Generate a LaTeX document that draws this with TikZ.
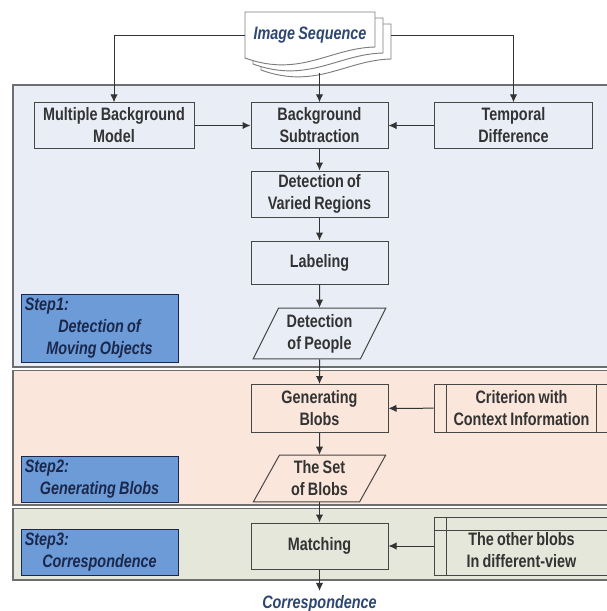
\documentclass[tikz,border=0pt]{standalone}
\usepackage{fontspec}
\setmainfont{Liberation Sans}[FakeStretch=0.8, WordSpace=0.8]
\usetikzlibrary{shapes.geometric,calc,arrows.meta}

\definecolor{panelA}{RGB}{233,237,245}
\definecolor{panelB}{RGB}{251,230,220}
\definecolor{panelC}{RGB}{228,231,218}
\definecolor{stepblue}{RGB}{108,155,216}
\definecolor{stepnavy}{RGB}{27,40,75}
\definecolor{seqblue}{RGB}{45,70,115}
\definecolor{boxline}{RGB}{70,70,70}
\definecolor{panelline}{RGB}{110,110,110}

\tikzset{
  box/.style = {draw = boxline, line width = 0.75pt, minimum width = 102.75pt,
                minimum height = 34pt, align = center, inner sep = 1pt,
                font = \bfseries\fontsize{13.5}{16.5}\selectfont, text = black!80},
  databox/.style = {box, trapezium, trapezium left angle = 63,
                    trapezium right angle = 117, trapezium stretches = true,
                    minimum width = 100pt, minimum height = 37pt},
  stepbox/.style = {draw = stepnavy, fill = stepblue, line width = 0.75pt,
                    minimum width = 117.75pt, text width = 112pt,
                    align = flush center, inner sep = 2pt, text = stepnavy,
                    font = \bfseries\itshape\fontsize{13.5}{16.5}\selectfont},
  arr/.style = {line width = 0.75pt, draw = black!80,
                -{Latex[length = 6pt, width = 5.5pt]}},
  panel/.style = {draw = panelline, line width = 1.2pt}
}

\begin{document}
\begin{tikzpicture}[x = 0.75pt, y = -0.75pt]
\useasboundingbox (0, 0) rectangle (607, 611);
\fill[white] (0, 0) rectangle (607, 611);
% the three steps
\draw[panel, fill = panelA] (13, 85) rectangle (614, 367);
\draw[panel, fill = panelB] (13, 370.5) rectangle (614, 505);
\draw[panel, fill = panelC] (13, 508.5) rectangle (614, 580);
% image sequence (stack of pages)
\foreach \dx/\dy in {16/12, 8/6, 0/0}
  \draw[boxline!70, line width = 0.7pt, fill = white]
    (245+\dx, 12+\dy) -- (375+\dx, 12+\dy) -- (375+\dx, 47+\dy)
    .. controls (330+\dx, 48+\dy) and (300+\dx, 78+\dy) .. (245+\dx, 58+\dy) -- cycle;
\node[minimum width = 97.5pt, minimum height = 34.5pt, inner sep = 0pt,
      text = seqblue, font = \bfseries\itshape\fontsize{13.5}{16.5}\selectfont]
      (seq) at (310, 35) {Image Sequence};
\coordinate (seqr) at (391, 35);
\coordinate (seqb) at (319.5, 73);

\node[box, fill = panelA, minimum width = 120pt] (mbm) at (114, 125.5) {Multiple Background\\Model};
\node[box, fill = panelA] (bs) at (319.5, 125.5) {Background\\Subtraction};
\node[box, fill = panelA, minimum width = 119pt] (td) at (513.5, 125.5) {Temporal\\Difference};
\node[box, fill = panelA, minimum height = 34.5pt] (dvr) at (319.5, 194) {Detection of\\Varied Regions};
\node[box, fill = panelA, minimum height = 32.25pt] (lab) at (319.5, 262.5) {Labeling};
\node[databox, fill = panelA, minimum height = 38pt] (dop) at (319.5, 333.5) {Detection\\of People};

\node[box, fill = panelB, minimum height = 36pt] (gb) at (319.5, 408.5) {Generating\\Blobs};
\node[box, fill = panelB, minimum width = 131pt, minimum height = 36pt] (crit) at (521.5, 408) {Criterion with\\Context Information};
\node[databox, fill = panelB, minimum height = 35pt] (sob) at (319.5, 478.5) {The Set\\of Blobs};

\node[box, fill = panelC, minimum height = 34.5pt] (match) at (319.5, 546) {Matching};
\node[box, fill = panelC, minimum width = 131pt, minimum height = 43.5pt] (oth) at (521.5, 546) {\mbox{}\\The other blobs\\In different-view};
\node[text = seqblue, font = \bfseries\itshape\fontsize{13.5}{16.5}\selectfont] (corr) at (319.5, 604) {Correspondence};

\node[stepbox, minimum height = 51pt] (step1) at (99.5, 328) {\makebox[\linewidth][l]{Step1:}\\Detection of\\Moving Objects};
\node[stepbox, minimum height = 34pt] (step2) at (99.5, 479.5) {\makebox[\linewidth][l]{Step2:}\\Generating Blobs};
\node[stepbox, minimum height = 35pt] (step3) at (99.5, 552.5) {\makebox[\linewidth][l]{Step3:}\\Correspondence};

% double bars of the side boxes
\draw[boxline, line width = 0.75pt]
  ($(crit.north west)+(13, 0)$) -- ($(crit.south west)+(13, 0)$)
  ($(crit.north east)+(-13, 0)$) -- ($(crit.south east)+(-13, 0)$)
  ($(oth.north west)+(13, 0)$) -- ($(oth.south west)+(13, 0)$)
  ($(oth.north west)+(0, 14)$) -- ($(oth.north east)+(0, 14)$);

\draw[arr] (seq.west) -| (mbm.north);
\draw[arr] (seqr) -| (td.north);
\draw[arr] (seqb) -- (bs.north);
\draw[arr] (mbm) -- (bs);
\draw[arr] (td) -- (bs);
\draw[arr] (bs) -- (dvr);
\draw[arr] (dvr) -- (lab);
\draw[arr] (lab) -- (dop);
\draw[arr] (dop) -- (gb);
\draw[arr] (crit) -- (gb);
\draw[arr] (gb) -- (sob);
\draw[arr] (sob) -- (match);
\draw[arr] (oth) -- (match);
\draw[arr] (match) -- (corr);
\end{tikzpicture}
\end{document}
